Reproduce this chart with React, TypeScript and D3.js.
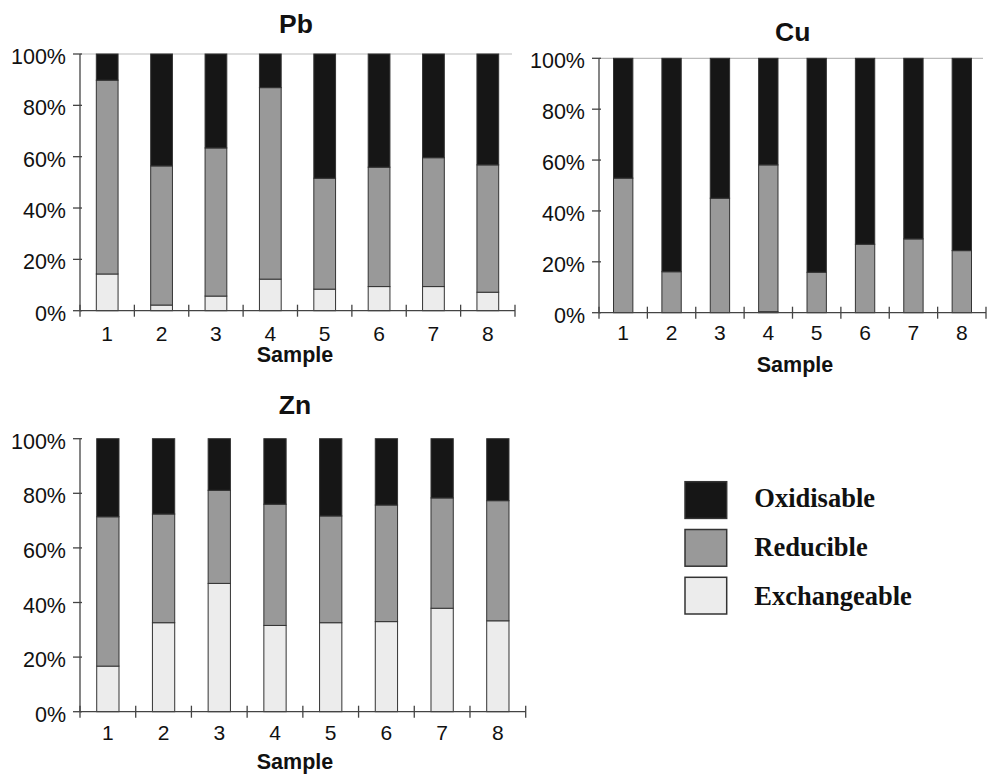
import React from "react";
import * as d3 from "d3";

const samples = ["1", "2", "3", "4", "5", "6", "7", "8"];
const fractions = ["Exchangeable", "Reducible", "Oxidisable"];
const yTickValues = [0, 0.2, 0.4, 0.6, 0.8, 1];

const pbExchangeable = [14.3, 2.2, 5.7, 12.3, 8.4, 9.4, 9.4, 7.2];
const pbReducible = [75.5, 54.2, 57.7, 74.6, 43.2, 46.5, 50.2, 49.6];
const pbOxidisable = [10.2, 43.6, 36.6, 13.1, 48.4, 44.1, 40.4, 43.2];

const cuExchangeable = [0, 0, 0, 0.4, 0, 0, 0, 0];
const cuReducible = [52.9, 16.1, 45.0, 57.7, 15.9, 26.9, 29.0, 24.4];
const cuOxidisable = [47.1, 83.9, 55.0, 41.9, 84.1, 73.1, 71.0, 75.6];

const znExchangeable = [16.7, 32.6, 47.0, 31.6, 32.6, 33.0, 37.9, 33.3];
const znReducible = [54.7, 39.8, 34.1, 44.4, 39.1, 42.7, 40.4, 44.0];
const znOxidisable = [28.6, 27.6, 18.9, 24.0, 28.3, 24.3, 21.7, 22.7];

const colors: Record<string, string> = {
  Exchangeable: "#ececec",
  Reducible: "#999999",
  Oxidisable: "#161616",
};

const SANS = "'Liberation Sans', Arial, Helvetica, sans-serif";
const SERIF = "'Liberation Serif', 'Times New Roman', serif";

type PanelProps = {
  title: string;
  exch: number[];
  red: number[];
  oxid: number[];
  left: number;
  right: number;
  top: number;
  bottom: number;
  topLine: boolean;
  titleX: number;
  titleY: number;
  sampleX: number;
  sampleY: number;
  tickLabelY: number;
};

function Panel(p: PanelProps) {
  const rows = samples.map((s, i) => ({
    sample: s,
    Exchangeable: p.exch[i],
    Reducible: p.red[i],
    Oxidisable: p.oxid[i],
  }));
  const series = d3.stack<any>().keys(fractions).offset(d3.stackOffsetExpand)(rows);
  const x = d3
    .scaleBand<string>()
    .domain(samples)
    .range([p.left, p.right])
    .paddingInner(0.6)
    .paddingOuter(0.3);
  const y = d3.scaleLinear().domain([0, 1]).range([p.bottom, p.top]);
  const step = x.step();
  const boundaries = d3.range(samples.length + 1).map((i) => p.left + i * step);
  const axisColor = "#444";
  return (
    <g>
      <text
        x={p.titleX}
        y={p.titleY}
        textAnchor="middle"
        fontFamily={SANS}
        fontWeight="bold"
        fontSize={26.5}
        fill="#111"
      >
        {p.title}
      </text>
      {p.topLine && (
        <line x1={p.left} x2={p.right - 3} y1={y(1)} y2={y(1)} stroke="#bbb" strokeWidth={1.2} />
      )}
      {series.map((s) => (
        <g key={s.key}>
          {s.map((d, i) =>
            d[1] - d[0] > 0 ? (
              <rect
                key={i}
                x={x(samples[i])}
                width={x.bandwidth()}
                y={y(d[1])}
                height={y(d[0]) - y(d[1])}
                fill={colors[s.key as string]}
                stroke="#333"
                strokeWidth={1}
              />
            ) : null
          )}
        </g>
      ))}
      {/* y axis */}
      <line x1={p.left} x2={p.left} y1={p.top} y2={p.bottom} stroke={axisColor} strokeWidth={1.3} />
      {yTickValues.map((t) => (
        <g key={t}>
          <line x1={p.left - 7} x2={p.left + 2} y1={y(t)} y2={y(t)} stroke={axisColor} strokeWidth={1.3} />
          <text
            x={p.left - 14}
            y={y(t) + 10}
            textAnchor="end"
            fontFamily={SANS}
            fontSize={21.5}
            fill="#111"
          >
            {d3.format(".0%")(t)}
          </text>
        </g>
      ))}
      {/* x axis */}
      <line x1={p.left} x2={p.right} y1={p.bottom} y2={p.bottom} stroke={axisColor} strokeWidth={1.3} />
      {boundaries.map((b, i) => (
        <line key={i} x1={b} x2={b} y1={p.bottom - 6} y2={p.bottom + 6} stroke={axisColor} strokeWidth={1.3} />
      ))}
      {samples.map((s) => (
        <text
          key={s}
          x={(x(s) as number) + x.bandwidth() / 2}
          y={p.tickLabelY}
          textAnchor="middle"
          fontFamily={SANS}
          fontSize={21}
          fill="#111"
        >
          {s}
        </text>
      ))}
      <text
        x={p.sampleX}
        y={p.sampleY}
        textAnchor="middle"
        fontFamily={SANS}
        fontWeight="bold"
        fontSize={21.5}
        fill="#111"
      >
        Sample
      </text>
    </g>
  );
}

const legendOrder = ["Oxidisable", "Reducible", "Exchangeable"];

export default function App() {
  return (
    <svg
      width={994}
      height={779}
      style={{ position: "absolute", left: 0, top: 0, background: "#fff" }}
    >
      <Panel
        title="Pb"
        exch={pbExchangeable}
        red={pbReducible}
        oxid={pbOxidisable}
        left={80}
        right={515}
        top={54}
        bottom={310.7}
        topLine={true}
        titleX={296}
        titleY={33}
        sampleX={295}
        sampleY={362}
        tickLabelY={341}
      />
      <Panel
        title="Cu"
        exch={cuExchangeable}
        red={cuReducible}
        oxid={cuOxidisable}
        left={599}
        right={986}
        top={58.3}
        bottom={312.7}
        topLine={true}
        titleX={792.7}
        titleY={40.5}
        sampleX={795}
        sampleY={371.5}
        tickLabelY={340}
      />
      <Panel
        title="Zn"
        exch={znExchangeable}
        red={znReducible}
        oxid={znOxidisable}
        left={80}
        right={525.7}
        top={438.7}
        bottom={711.7}
        topLine={false}
        titleX={295}
        titleY={413.5}
        sampleX={295}
        sampleY={769}
        tickLabelY={740}
      />
      {legendOrder.map((k, i) => (
        <g key={k}>
          <rect
            x={685}
            y={481.7 + i * 47.8}
            width={41.7}
            height={36.7}
            fill={colors[k]}
            stroke="#333"
            strokeWidth={1.5}
          />
          <text
            x={754.3}
            y={507 + i * 48.8}
            fontFamily={SERIF}
            fontWeight="bold"
            fontSize={26.5}
            fill="#111"
          >
            {k}
          </text>
        </g>
      ))}
    </svg>
  );
}
